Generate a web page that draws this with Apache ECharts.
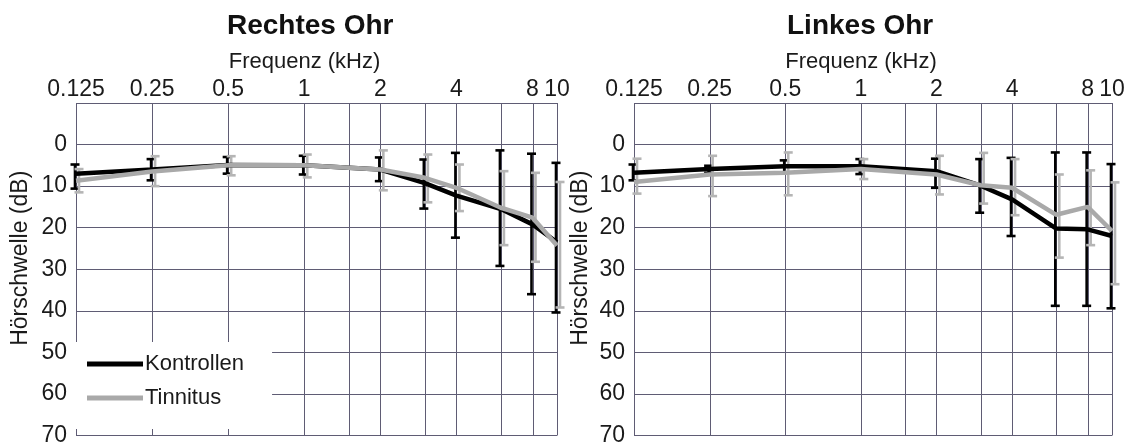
<!DOCTYPE html>
<html>
<head>
<meta charset="utf-8">
<script src="https://cdn.jsdelivr.net/npm/echarts@6/dist/echarts.min.js"></script>
<style>
html,body{margin:0;padding:0;background:#fff;}
#chart{width:1134px;height:447px;}
</style>
</head>
<body>
<div id="chart"></div>
<script>
// ---- data ----
const freqs = [0.125, 0.25, 0.5, 1, 2, 3, 4, 6, 8, 10];
const gridFreqs = [0.125, 0.25, 0.5, 1, 1.5, 2, 3, 4, 6, 8, 10];
const xTickVals = [0.125, 0.25, 0.5, 1, 2, 4, 8, 10];
const xTickLabels = ['0.125', '0.25', '0.5', '1', '2', '4', '8', '10'];
const yTicks = [0, 10, 20, 30, 40, 50, 60, 70];
const yMin = -10, yMax = 70;
const panelTitles = ['Rechtes Ohr', 'Linkes Ohr'];
const seriesNames = ['Kontrollen', 'Tinnitus'];

// Rechtes Ohr
const rK   = [7.0, 6.0, 4.9, 5.0, 6.0, 9.3, 12.3, 15.5, 19.2, 23.5];
const rKlo = [4.8, 3.5, 3.0, 2.7, 3.1, 3.6, 2.0, 1.4, 2.2, 4.4];
const rKhi = [10.6, 8.6, 7.0, 7.2, 8.8, 15.4, 22.4, 29.2, 36.0, 40.4];
const rT   = [8.7, 6.5, 5.0, 5.0, 6.0, 8.0, 10.4, 15.2, 17.6, 24.3];
const rTlo = [5.9, 2.8, 2.8, 2.4, 1.4, 2.4, 4.8, 6.4, 6.8, 9.0];
const rThi = [11.5, 10.0, 7.4, 7.9, 11.0, 13.9, 16.0, 24.2, 28.2, 39.2];

// Linkes Ohr
const lK   = [6.8, 5.9, 5.2, 5.2, 6.4, 9.9, 13.2, 20.2, 20.4, 22.0];
const lKlo = [4.8, 5.1, 3.8, 3.5, 3.4, 3.5, 3.2, 1.9, 1.9, 4.7];
const lKhi = [8.6, 6.8, 6.7, 7.1, 10.4, 16.4, 22.0, 38.8, 38.8, 39.4];
const lT   = [9.0, 7.2, 6.8, 5.9, 7.2, 9.8, 10.4, 16.9, 15.0, 20.8];
const lTlo = [3.4, 2.7, 1.9, 3.5, 2.7, 2.0, 3.5, 7.2, 6.2, 9.1];
const lThi = [11.8, 12.4, 12.2, 8.3, 12.0, 14.2, 17.0, 27.2, 24.2, 33.6];

// ---- styling ----
const FONT = "'Liberation Sans', Arial, sans-serif";
const TXT = '#1a1a1a';
const GRIDC = '#5f5c74';
const COL_K = '#000000';
const COL_T = '#a9a9a9';
const COL_T_ERR = '#b5b5b5';

const chart = echarts.init(document.getElementById('chart'), null, {renderer: 'canvas'});

const grids = [
  {left: 76, top: 103, width: 481, height: 333.5},
  {left: 634, top: 103, width: 478, height: 333.5}
];

function xAxisFor(i) {
  return {
    gridIndex: i, type: 'log', logBase: 2, min: 0.125, max: 10, position: 'top',
    name: 'Frequenz (kHz)', nameLocation: 'middle', nameGap: 29,
    nameTextStyle: {fontFamily: FONT, fontSize: 22, color: TXT, padding: [0, 24, 0, 0]},
    axisLine: {show: false}, axisTick: {show: false}, splitLine: {show: false}, minorTick: {show: false},
    axisLabel: {
      customValues: xTickVals, margin: 2, fontFamily: FONT, fontSize: 23, color: TXT,
      formatter: function (v) {
        for (let k = 0; k < xTickVals.length; k++) if (Math.abs(xTickVals[k] - v) < 1e-6) return xTickLabels[k];
        return '';
      }
    }
  };
}
function yAxisFor(i) {
  return {
    gridIndex: i, type: 'value', inverse: true, min: yMin, max: yMax, interval: 10,
    name: 'Hörschwelle (dB)', nameLocation: 'middle', nameGap: i === 0 ? 44 : 42, nameRotate: 90,
    nameTextStyle: {fontFamily: FONT, fontSize: 23, color: TXT, padding: [0, 0, 0, 22]},
    axisLine: {show: false}, axisTick: {show: false},
    splitLine: {show: true, lineStyle: {color: GRIDC, width: 1}},
    axisLabel: {customValues: yTicks, margin: 9, fontFamily: FONT, fontSize: 23, color: TXT}
  };
}

function gridLineSeries(i) {
  return {
    type: 'custom', name: 'grid' + i, xAxisIndex: i, yAxisIndex: i, z: 1, silent: true,
    data: gridFreqs.map(f => [f]),
    encode: {x: 0},
    renderItem: function (params, api) {
      const f = api.value(0);
      const p1 = api.coord([f, yMin]);
      const p2 = api.coord([f, yMax]);
      return {type: 'line', shape: {x1: Math.round(p1[0]) + 0.5, y1: p1[1], x2: Math.round(p2[0]) + 0.5, y2: p2[1]},
        style: {stroke: GRIDC, lineWidth: 1}};
    }
  };
}

function errSeries(i, name, lo, hi, color, dx, capW) {
  return {
    type: 'custom', name: name, xAxisIndex: i, yAxisIndex: i, z: 3, silent: true,
    data: freqs.map((f, k) => [f, lo[k], hi[k]]),
    encode: {x: 0, y: [1, 2]},
    renderItem: function (params, api) {
      const f = api.value(0);
      const a = api.coord([f, api.value(1)]);
      const b = api.coord([f, api.value(2)]);
      const x = a[0] + dx;
      const st = {stroke: color, lineWidth: 2.6};
      return {type: 'group', children: [
        {type: 'line', shape: {x1: x, y1: a[1], x2: x, y2: b[1]}, style: st},
        {type: 'line', shape: {x1: x - capW / 2, y1: a[1], x2: x + capW / 2, y2: a[1]}, style: st},
        {type: 'line', shape: {x1: x - capW / 2, y1: b[1], x2: x + capW / 2, y2: b[1]}, style: st}
      ]};
    }
  };
}

function lineSeries(i, name, vals, color) {
  return {
    type: 'line', name: name, xAxisIndex: i, yAxisIndex: i, z: 4,
    data: freqs.map((f, k) => [f, vals[k]]),
    showSymbol: false, symbol: 'none', color: color,
    itemStyle: {color: color},
    lineStyle: {color: color, width: 4.5}
  };
}

const option = {
  animation: false,
  backgroundColor: '#ffffff',
  title: [
    {text: panelTitles[0], left: 227, top: 12, padding: 0,
     textStyle: {fontFamily: FONT, fontSize: 28, fontWeight: 'bold', color: '#111'}},
    {text: panelTitles[1], left: 787, top: 12, padding: 0,
     textStyle: {fontFamily: FONT, fontSize: 28, fontWeight: 'bold', color: '#111'}}
  ],
  legend: {
    data: seriesNames, orient: 'vertical', left: 76, top: 342,
    icon: 'rect', itemWidth: 56, itemHeight: 5, itemGap: 12,
    padding: [11, 28, 20, 11], backgroundColor: '#ffffff', z: 10,
    textStyle: {fontFamily: FONT, fontSize: 22, color: TXT, padding: [0, 0, 0, -3]},
    selectedMode: false
  },
  grid: grids,
  xAxis: [xAxisFor(0), xAxisFor(1)],
  yAxis: [yAxisFor(0), yAxisFor(1)],
  series: [
    gridLineSeries(0), gridLineSeries(1),
    errSeries(0, 'Kontrollen SD', rKlo, rKhi, COL_K, -1, 9),
    errSeries(0, 'Tinnitus SD', rTlo, rThi, COL_T_ERR, 3, 9),
    errSeries(1, 'Kontrollen SD', lKlo, lKhi, COL_K, -1, 9),
    errSeries(1, 'Tinnitus SD', lTlo, lThi, COL_T_ERR, 3, 9),
    lineSeries(0, seriesNames[0], rK, COL_K),
    lineSeries(0, seriesNames[1], rT, COL_T),
    lineSeries(1, seriesNames[0], lK, COL_K),
    lineSeries(1, seriesNames[1], lT, COL_T)
  ]
};
chart.setOption(option);
</script>
</body>
</html>
